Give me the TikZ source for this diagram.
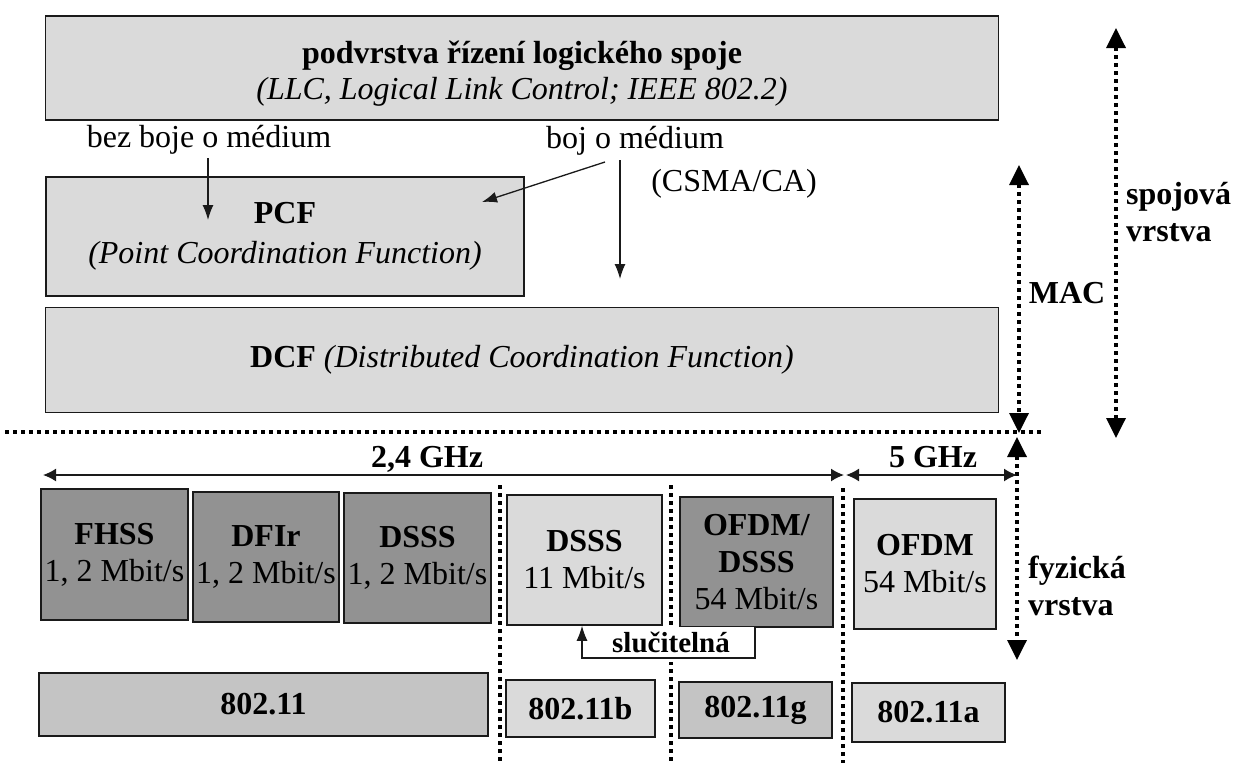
\documentclass[tikz,border=0pt]{standalone}
\usepackage{fontspec}
\setmainfont{Liberation Serif}
\usetikzlibrary{arrows.meta}
\definecolor{boxlight}{HTML}{DADADA}
\definecolor{boxmid}{HTML}{C4C4C4}
\definecolor{boxdark}{HTML}{929292}
\definecolor{linec}{HTML}{1A1A1A}
\begin{document}
\begin{tikzpicture}[x=1pt,y=-1pt,
  every node/.style={font=\fontsize{32}{37}\selectfont, inner sep=0pt},
  box/.style={draw=linec, line width=1.5pt, align=center, inner sep=0pt},
  lightbox/.style={box, fill=boxlight},
  midbox/.style={box, fill=boxmid},
  darkbox/.style={box, fill=boxdark},
  arr/.style={draw=linec, line width=1.3pt, -{Latex[length=15pt,width=11pt]}},
  harr/.style={draw=linec, line width=1.6pt, {Latex[length=13pt,width=13pt]}-{Latex[length=13pt,width=13pt]}},
  dotline/.style={draw=black, line width=3.5pt, dash pattern=on 3.5pt off 4.5pt},
  dotarr/.style={dotline, {Triangle[length=20pt,width=19pt]}-{Triangle[length=20pt,width=19pt]}},
]
\useasboundingbox[fill=white] (0,0) rectangle (1235,763);

% upper layer boxes
\node[lightbox, minimum width=953pt, minimum height=104pt] (llc) at (522,68) {};
\node[align=center] (llct) at (522,74)
  {\textbf{podvrstva řízení logického spoje}\\[-1pt]\textit{(LLC, Logical Link Control; IEEE 802.2)}};
\node (bez) at (209,140) {bez boje o médium};
\node (boj) at (635,141) {boj o médium};
\node (csma) at (734,184) {(CSMA/CA)};
\node[lightbox, minimum width=478pt, minimum height=119pt] (pcf) at (285,236.5)
  {\textbf{PCF}\\[3pt]\textit{(Point Coordination Function)}};
\node[lightbox, minimum width=953pt, minimum height=105pt] (dcf) at (522,360)
  {\textbf{DCF} \textit{(Distributed Coordination Function)}};

% thin arrows
\coordinate (bezA) at (208,158); \coordinate (bezB) at (208,220);
\coordinate (bojA) at (605,162); \coordinate (bojB) at (482,202);
\coordinate (bojC) at (620,160); \coordinate (bojD) at (620,279);
\draw[arr] (bezA) -- (bezB);
\draw[arr] (bojA) -- (bojB);
\draw[arr] (bojC) -- (bojD);

% dotted separator and layer arrows
\coordinate (hl) at (5,432); \coordinate (hr) at (1045,432);
\draw[dotline] (hl) -- (hr);
\coordinate (macT) at (1019,165); \coordinate (macB) at (1019,433);
\draw[dotarr] (macT) -- (macB);
\node (mac) at (1067,293) {\textbf{MAC}};
\coordinate (spT) at (1116,28); \coordinate (spB) at (1116,438);
\draw[dotarr] (spT) -- (spB);
\node[anchor=west, align=left] (spoj) at (1126,212) {\textbf{spojová}\\\textbf{vrstva}};
\coordinate (fyT) at (1017,437); \coordinate (fyB) at (1017,660);
\draw[dotarr] (fyT) -- (fyB);
\node[anchor=west, align=left] (fyz) at (1028,586) {\textbf{fyzická}\\\textbf{vrstva}};

% frequency arrows
\coordinate (g24L) at (43,475); \coordinate (g24R) at (844,475);
\draw[harr] (g24L) -- (g24R);
\node[anchor=base] (g24) at (427,467) {\textbf{2,4 GHz}};
\coordinate (g5L) at (846,475); \coordinate (g5R) at (1017,475);
\draw[harr] (g5L) -- (g5R);
\node[anchor=base] (g5) at (933,467) {\textbf{5 GHz}};

% vertical dotted separators
\coordinate (v1t) at (500,485); \coordinate (v1b) at (500,763);
\coordinate (v2t) at (671,485); \coordinate (v2b) at (671,763);
\coordinate (v3t) at (843,488); \coordinate (v3b) at (843,763);
\draw[dotline] (v1t) -- (v1b);
\draw[dotline] (v2t) -- (v2b);
\draw[dotline] (v3t) -- (v3b);

% physical layer boxes
\node[darkbox, minimum width=147pt, minimum height=131pt] (fhss) at (114.5,554.5) {\textbf{FHSS}\\1, 2 Mbit/s};
\node[darkbox, minimum width=146pt, minimum height=130pt] (dfir) at (266,557) {\textbf{DFIr}\\1, 2 Mbit/s};
\node[darkbox, minimum width=147pt, minimum height=130pt] (dsss) at (417.5,558) {\textbf{DSSS}\\1, 2 Mbit/s};
\node[lightbox, minimum width=155pt, minimum height=130pt] (dsssb) at (584.5,560) {\textbf{DSSS}\\11 Mbit/s};
\node[darkbox, minimum width=153pt, minimum height=130pt] (ofdmg) at (756.5,562) {\textbf{OFDM/}\\\textbf{DSSS}\\54 Mbit/s};
\node[lightbox, minimum width=142pt, minimum height=130pt] (ofdma) at (925,564) {\textbf{OFDM}\\54 Mbit/s};

% compatibility bracket
\fill[white] (582,627) rectangle (755,662);
\coordinate (brTop) at (755,627); \coordinate (brBR) at (755,658); \coordinate (brBL) at (582,658);
\draw[arr] (brTop) -- (brBR) -- (brBL) -- (dsssb.south -| brBL);
\node[font=\fontsize{29}{34}\selectfont] (sluc) at (671,642) {\textbf{slučitelná}};

% standards
\node[midbox, minimum width=449pt, minimum height=63pt] (s80211) at (263.5,704.5) {\textbf{802.11}};
\node[lightbox, minimum width=149pt, minimum height=57pt] (s11b) at (580.5,708.5) {\textbf{802.11b}};
\node[midbox, minimum width=153pt, minimum height=56pt] (s11g) at (755.5,710) {\textbf{802.11g}};
\node[lightbox, minimum width=153pt, minimum height=59pt] (s11a) at (928.5,712.5) {\textbf{802.11a}};
\end{tikzpicture}
\end{document}
